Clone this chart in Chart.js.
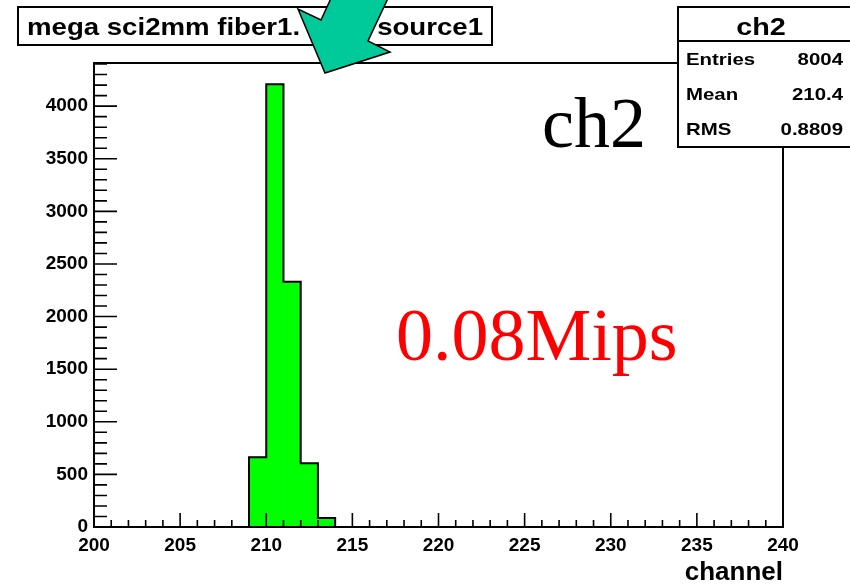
<!DOCTYPE html>
<html>
<head>
<meta charset="utf-8">
<script src="https://cdn.jsdelivr.net/npm/chart.js@4"></script>
<style>
html, body { margin: 0; padding: 0; background: #fff; }
canvas { display: block; }
</style>
</head>
<body>
<canvas id="canvas" width="850" height="588"></canvas>
<script>
// histogram bins (left edge of each 1-channel bin) and counts
let channels = [209, 210, 211, 212, 213];
let counts = [664, 4207, 2330, 606, 86];

let xTickValues = [200, 205, 210, 215, 220, 225, 230, 235, 240];
let yTickValues = [0, 500, 1000, 1500, 2000, 2500, 3000, 3500, 4000];
let xMin = 200, xMax = 240, yMax = 4410;

let xTitle = "channel";
let histTitleLeft = "mega sci2mm fiber1.";
let histTitleRight = "source1";
let statsName = "ch2";
let statsLabels = ["Entries", "Mean", "RMS"];
let statsValues = ["8004", "210.4", "0.8809"];
let noteChannel = "ch2";
let noteMips = "0.08Mips";

let barPoints = channels.map((c, i) => ({ x: c + 0.5, y: counts[i] }));
let stepPoints = [{ x: channels[0], y: 0 }]
    .concat(channels.map((c, i) => ({ x: c, y: counts[i] })))
    .concat([{ x: channels[channels.length - 1] + 1, y: 0 }]);

function wideText(ctx, text, x, y, font, align, sx) {
    ctx.save();
    ctx.font = font;
    ctx.textAlign = align;
    ctx.textBaseline = 'alphabetic';
    ctx.translate(x, y);
    ctx.scale(sx, 1);
    ctx.fillText(text, 0, 0);
    ctx.restore();
}

// ROOT style ticks pointing into the frame, plus the frame itself
const rootTicks = {
    id: 'rootTicks',
    afterDatasetsDraw(chart) {
        const { ctx, chartArea: a, scales: { x, y } } = chart;
        ctx.save();
        ctx.strokeStyle = '#000';
        ctx.lineWidth = 1.6;
        ctx.beginPath();
        for (let v = xMin; v <= xMax; v += 1) {
            let px = x.getPixelForValue(v);
            let len = v % 5 === 0 ? 14 : 7;
            ctx.moveTo(px, a.bottom);
            ctx.lineTo(px, a.bottom - len);
        }
        for (let v = 0; v <= yMax; v += 100) {
            let py = y.getPixelForValue(v);
            let len = v % 500 === 0 ? 23 : 13;
            ctx.moveTo(a.left, py);
            ctx.lineTo(a.left + len, py);
        }
        ctx.stroke();
        ctx.lineWidth = 2;
        ctx.strokeRect(a.left, a.top, a.right - a.left, a.bottom - a.top);
        ctx.restore();
    }
};

const boxes = {
    id: 'boxes',
    afterDraw(chart) {
        const ctx = chart.ctx;
        ctx.save();

        // title box
        ctx.fillStyle = '#fff';
        ctx.fillRect(18, 7, 474, 38);
        ctx.strokeStyle = '#000';
        ctx.lineWidth = 2;
        ctx.strokeRect(18, 7, 474, 38);
        ctx.fillStyle = '#000';
        wideText(ctx, histTitleLeft, 27, 35, 'bold 24px "Liberation Sans"', 'left', 1.15);
        wideText(ctx, histTitleRight, 483, 35, 'bold 24px "Liberation Sans"', 'right', 1.15);

        // stats box
        ctx.fillStyle = '#fff';
        ctx.fillRect(678, 7, 180, 140);
        ctx.strokeRect(678, 7, 180, 140);
        ctx.beginPath();
        ctx.moveTo(678, 41);
        ctx.lineTo(858, 41);
        ctx.stroke();
        ctx.fillStyle = '#000';
        wideText(ctx, statsName, 761, 35, 'bold 24px "Liberation Sans"', 'center', 1.2);
        let rowY = [65, 100, 135];
        statsLabels.forEach((lab, i) => {
            wideText(ctx, lab, 686, rowY[i], 'bold 17px "Liberation Sans"', 'left', 1.2);
            wideText(ctx, statsValues[i], 843, rowY[i], 'bold 17px "Liberation Sans"', 'right', 1.2);
        });

        // slide annotations
        ctx.textAlign = 'left';
        ctx.font = '72px "Liberation Serif"';
        ctx.fillStyle = '#000';
        ctx.fillText(noteChannel, 542, 147);
        ctx.font = '74px "Liberation Serif"';
        ctx.fillStyle = '#ff0000';
        ctx.fillText(noteMips, 396, 360);

        // arrow
        let arrow = [[333, -6], [321, 20], [298, 9], [325, 73], [390, 52], [368, 41], [390, -6]];
        ctx.beginPath();
        arrow.forEach((p, i) => i ? ctx.lineTo(p[0], p[1]) : ctx.moveTo(p[0], p[1]));
        ctx.closePath();
        ctx.fillStyle = '#00c99a';
        ctx.fill();
        ctx.lineWidth = 1.5;
        ctx.strokeStyle = '#000';
        ctx.stroke();
        ctx.restore();
    }
};

let labelFont = { family: 'Liberation Sans', weight: 'bold', size: 19 };

let histChart = new Chart(document.getElementById('canvas'), {
    type: 'bar',
    data: {
        datasets: [{
            type: 'line',
            data: stepPoints,
            stepped: true,
            borderColor: '#000',
            borderWidth: 2,
            pointRadius: 0,
            fill: false,
            order: 0
        }, {
            data: barPoints,
            backgroundColor: '#00ff00',
            borderWidth: 0,
            barPercentage: 1,
            categoryPercentage: 1,
            order: 1
        }]
    },
    options: {
        responsive: false,
        animation: false,
        events: [],
        layout: { padding: { left: 0, top: 63, right: 67, bottom: 0 } },
        plugins: { legend: { display: false }, tooltip: { enabled: false } },
        scales: {
            x: {
                type: 'linear',
                min: xMin,
                max: xMax,
                offset: false,
                grid: { display: false, drawTicks: false },
                border: { display: false },
                afterBuildTicks: s => { s.ticks = xTickValues.map(v => ({ value: v })); },
                ticks: { font: labelFont, color: '#000', padding: 7, maxRotation: 0, autoSkip: false,
                    callback: v => String(v) },
                title: {
                    display: true, text: xTitle, align: 'end', color: '#000', padding: 0,
                    font: { family: 'Liberation Sans', weight: 'bold', size: 26 }
                },
                afterFit: s => { s.height = 61; }
            },
            y: {
                min: 0,
                max: yMax,
                grid: { display: false, drawTicks: false },
                border: { display: false },
                afterBuildTicks: s => { s.ticks = yTickValues.map(v => ({ value: v })); },
                ticks: { font: labelFont, color: '#000', padding: 6, callback: v => String(v) },
                afterFit: s => { s.width = 94; }
            }
        }
    },
    plugins: [rootTicks, boxes]
});
</script>
</body>
</html>
